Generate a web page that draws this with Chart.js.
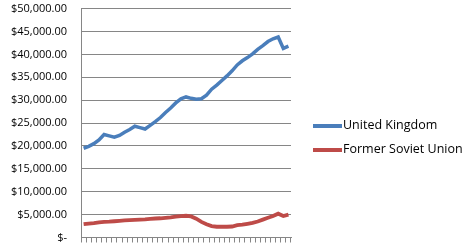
<!DOCTYPE html>
<html>
<head>
<meta charset="utf-8">
<script src="https://cdn.jsdelivr.net/npm/chart.js@4"></script>
<style>
  html, body { margin: 0; padding: 0; background: #fff; }
  #wrap { position: relative; width: 462px; height: 250px; }
  #legend { position: absolute; left: 313px; top: 116px; font: 12.5px "Open Sans", sans-serif; color: #000; white-space: nowrap; }
  #legend div { height: 24px; display: flex; align-items: flex-start; }
  #legend span.swatch { display: inline-block; width: 29px; height: 4px; margin-top: 8px; margin-right: 1px; }
</style>
</head>
<body>
<div id="wrap">
  <canvas id="chart" width="462" height="250"></canvas>
  <div id="legend"></div>
</div>
<script>
// years 1970-2010, no labels shown on the axis
const years = [];
for (let y = 1970; y <= 2010; y++) years.push(String(y));

const ukValues = [19500, 19900, 20500, 21300, 22500, 22200, 21900, 22300, 23000, 23600,
  24300, 24000, 23700, 24500, 25300, 26200, 27300, 28300, 29400, 30300,
  30700, 30400, 30200, 30300, 31100, 32400, 33300, 34300, 35300, 36400,
  37700, 38600, 39300, 40100, 41100, 41900, 42800, 43400, 43800, 41300, 41800];

const fsuValues = [2900, 3050, 3150, 3300, 3400, 3450, 3550, 3650, 3750, 3800,
  3850, 3900, 3950, 4050, 4150, 4200, 4300, 4400, 4550, 4650,
  4750, 4600, 4100, 3400, 2900, 2500, 2350, 2350, 2350, 2400,
  2700, 2800, 3000, 3200, 3500, 3900, 4300, 4700, 5200, 4700, 5000];

const seriesNames = ["United Kingdom", "Former Soviet Union"];
const seriesColors = ["#4A7EBB", "#BE4B48"];

const yMax = 50000;
const yStep = 5000;

function money(v) {
  if (v === 0) return '$-';
  return '$' + v.toLocaleString('en-US', { minimumFractionDigits: 2, maximumFractionDigits: 2 });
}

const ctx = document.getElementById('chart').getContext('2d');
new Chart(ctx, {
  type: 'line',
  data: {
    labels: years,
    datasets: [
      { label: seriesNames[0], data: ukValues, borderColor: seriesColors[0], borderWidth: 3.5, pointRadius: 0, tension: 0 },
      { label: seriesNames[1], data: fsuValues, borderColor: seriesColors[1], borderWidth: 3.8, pointRadius: 0, tension: 0 }
    ]
  },
  options: {
    responsive: false,
    animation: false,
    layout: { padding: { left: 9, right: 171, top: 8.5, bottom: 7.5 } },
    plugins: { legend: { display: false }, tooltip: { enabled: false } },
    scales: {
      x: {
        offset: true,
        grid: { offset: true, drawOnChartArea: false, drawTicks: true, tickLength: 5, color: '#868686' },
        border: { color: '#868686' },
        ticks: { display: false }
      },
      y: {
        min: 0,
        max: yMax,
        ticks: {
          stepSize: yStep,
          padding: 2,
          color: '#000',
          font: { family: '"Open Sans", sans-serif', size: 11 },
          callback: (v) => money(v)
        },
        // invisible tick marks keep the gap between labels and the axis
        grid: { color: '#868686', drawTicks: true, tickLength: 12, tickColor: 'rgba(0,0,0,0)' },
        border: { color: '#868686' }
      }
    }
  }
});

const legend = document.getElementById('legend');
seriesNames.forEach((name, i) => {
  const row = document.createElement('div');
  row.innerHTML = '<span class="swatch" style="background:' + seriesColors[i] + '"></span><span>' + name + '</span>';
  legend.appendChild(row);
});
</script>
</body>
</html>
